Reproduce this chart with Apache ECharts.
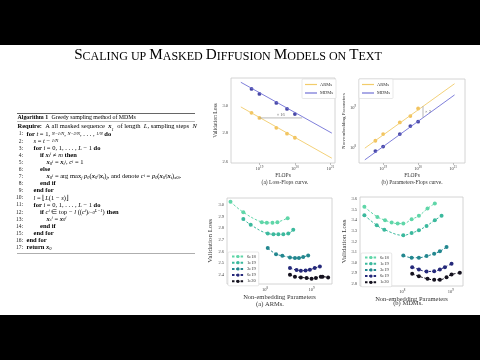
<!DOCTYPE html>
<html><head><meta charset="utf-8">
<script src="https://cdn.jsdelivr.net/npm/echarts@6/dist/echarts.min.js"></script>
<style>html,body{margin:0;padding:0;background:#fff}#c{width:480px;height:360px}</style>
</head><body><div id="c"></div>
<script>
// ---------- data ----------
// (a) Loss-Flops curve
const flops = [6e18, 1e19, 3e19, 6e19, 1e20];
const armsLoss = [2.945, 2.907, 2.834, 2.792, 2.763];
const mdmsLoss = [3.131, 3.091, 3.021, 2.975, 2.936];
const fitFlops = [3e18, 1.1e21];
const armsFitLoss = [2.99, 2.622];
const mdmsFitLoss = [3.185, 2.796];
const ratioLossFlops = [1e19, 1.6e20];
const ratioLossValue = 2.907;
// (b) Parameters-Flops curve
const armsParams = [1.5e8, 2.2e8, 4.3e8, 6.2e8, 9.6e8];
const mdmsParams = [8.3e7, 1.07e8, 2.2e8, 3.5e8, 4.5e8];
const armsFitParams = [9.8e7, 4.0e9];
const mdmsFitParams = [5.0e7, 2.1e9];
const ratioParamsFlops = 1.38e20;
const ratioParamsValues = [1.1e9, 5.7e8];
// IsoFLOP curves (params in millions)
const budgets = ['6e18', '1e19', '3e19', '6e19', '1e20'];
const armsP6e18 = [18, 34, 85, 109, 144, 184, 306];
const armsL6e18 = [3.028, 2.937, 2.852, 2.846, 2.846, 2.852, 2.886];
const armsP1e19 = [34, 49, 114, 151, 193, 247, 316, 404];
const armsL1e19 = [2.88, 2.829, 2.754, 2.749, 2.749, 2.749, 2.754, 2.786];
const armsP3e19 = [114, 172, 235, 343, 439, 535, 661, 845];
const armsL3e19 = [2.629, 2.577, 2.563, 2.549, 2.543, 2.543, 2.552, 2.566];
const armsP6e19 = [343, 476, 589, 743, 920, 1170, 1510];
const armsL6e19 = [2.457, 2.44, 2.434, 2.437, 2.443, 2.457, 2.471];
const armsP1e20 = [343, 439, 589, 782, 1000, 1240, 1580, 1720, 2270];
const armsL1e20 = [2.4, 2.383, 2.377, 2.372, 2.366, 2.372, 2.383, 2.383, 2.377];
const mdmsP6e18 = [16.6, 30.7, 44.2, 60.5, 80.5, 105, 156, 220, 331, 468];
const mdmsL6e18 = [3.527, 3.432, 3.401, 3.379, 3.369, 3.369, 3.41, 3.442, 3.512, 3.559];
const mdmsP1e19 = [16.6, 29.8, 42.7, 105, 156, 220, 316, 468, 644];
const mdmsL1e19 = [3.448, 3.353, 3.312, 3.258, 3.28, 3.306, 3.347, 3.401, 3.442];
const mdmsP3e19 = [105, 156, 220, 316, 454, 594, 815];
const mdmsL3e19 = [3.069, 3.047, 3.047, 3.062, 3.085, 3.107, 3.148];
const mdmsP6e19 = [160, 220, 316, 454, 594, 753, 1033];
const mdmsL6e19 = [2.958, 2.936, 2.917, 2.92, 2.936, 2.958, 2.99];
const mdmsP1e20 = [160, 220, 331, 454, 594, 815, 1033, 1531];
const mdmsL1e20 = [2.895, 2.872, 2.848, 2.838, 2.838, 2.863, 2.888, 2.905];
// tick labels
const flopsTickExp = [19, 20, 21];
const paramTickExp = [8, 9];
const lossTicksTop = [2.6, 2.8, 3.0];
const armsLossTicks = [2.4, 2.5, 2.6, 2.7, 2.8, 2.9, 3.0];
const mdmsLossTicks = [2.8, 2.9, 3.0, 3.1, 3.2, 3.3, 3.4, 3.5, 3.6];

// ---------- helpers ----------
const lg = Math.log10, ln = Math.log;
const SERIF = 'Liberation Serif';
const budgetColors = ['#5fd6a8', '#3bb99d', '#23878f', '#25297a', '#15121f'];
const armsSets = [[armsP6e18, armsL6e18], [armsP1e19, armsL1e19], [armsP3e19, armsL3e19], [armsP6e19, armsL6e19], [armsP1e20, armsL1e20]];
const mdmsSets = [[mdmsP6e18, mdmsL6e18], [mdmsP1e19, mdmsL1e19], [mdmsP3e19, mdmsL3e19], [mdmsP6e19, mdmsL6e19], [mdmsP1e20, mdmsL1e20]];

const powRich = {b: {fontSize: 4.5, fontFamily: SERIF, color: '#444'}, e: {fontSize: 3.2, fontFamily: SERIF, color: '#444', padding: [0, 0, 3, 0]}};
function powAxis(gi, min, max, exps, name, nameGap, nameSize, ticks) {
  return {
    type: 'value', gridIndex: gi, min, max, name, nameLocation: 'middle', nameGap,
    nameTextStyle: {fontFamily: SERIF, fontSize: nameSize, color: '#333'},
    axisLine: {show: false}, splitLine: {show: false},
    axisTick: {show: ticks, customValues: exps, length: 2, lineStyle: {color: '#999', width: 0.6}},
    axisLabel: {customValues: exps, margin: 3, formatter: v => '{b|10}{e|' + Math.round(v) + '}', rich: powRich}
  };
}
function linAxis(gi, min, max, ticks, fmt, toAxis, name, nameGap, nameSize, labelSize) {
  return {
    type: 'value', gridIndex: gi, min, max, name, nameLocation: 'middle', nameGap,
    nameTextStyle: {fontFamily: SERIF, fontSize: nameSize, color: '#333'},
    axisLine: {show: false}, splitLine: {show: false},
    axisTick: {show: false, customValues: ticks.map(toAxis)},
    axisLabel: {customValues: ticks.map(toAxis), margin: 3, fontSize: labelSize, fontFamily: SERIF, color: '#444', formatter: fmt}
  };
}
const gridBase = {show: true, borderColor: '#c9c9c9', borderWidth: 0.8, backgroundColor: '#fff', containLabel: false};

const series = [];
// (a)
series.push({name: 'ARMs', type: 'line', xAxisIndex: 0, yAxisIndex: 0, symbol: 'none', silent: true,
  lineStyle: {color: '#f2cc6a', width: 0.9}, itemStyle: {color: '#f2cc6a'},
  data: fitFlops.map((f, i) => [lg(f), ln(armsFitLoss[i])])});
series.push({name: 'MDMs', type: 'line', xAxisIndex: 0, yAxisIndex: 0, symbol: 'none', silent: true,
  lineStyle: {color: '#7171d6', width: 0.9}, itemStyle: {color: '#7171d6'},
  data: fitFlops.map((f, i) => [lg(f), ln(mdmsFitLoss[i])])});
series.push({name: 'ARMs', type: 'scatter', xAxisIndex: 0, yAxisIndex: 0, symbolSize: 3.8, itemStyle: {color: '#efb437'},
  data: flops.map((f, i) => [lg(f), ln(armsLoss[i])])});
series.push({name: 'MDMs', type: 'scatter', xAxisIndex: 0, yAxisIndex: 0, symbolSize: 3.8, itemStyle: {color: '#1a1a8e'},
  data: flops.map((f, i) => [lg(f), ln(mdmsLoss[i])])});
series.push({type: 'line', xAxisIndex: 0, yAxisIndex: 0, symbol: 'none', lineStyle: {color: '#9a9a9a', width: 0.7},
  data: ratioLossFlops.map(f => [lg(f), ln(ratioLossValue)])});
series.push({type: 'scatter', xAxisIndex: 0, yAxisIndex: 0, symbolSize: 0,
  label: {show: true, position: 'top', distance: 1, formatter: '× 16', fontFamily: SERIF, fontSize: 4.5, color: '#333'},
  data: [[(lg(ratioLossFlops[0]) + lg(ratioLossFlops[1])) / 2, ln(ratioLossValue)]]});
// (b)
series.push({name: 'ARMs', type: 'line', xAxisIndex: 1, yAxisIndex: 1, symbol: 'none', silent: true,
  lineStyle: {color: '#f2cc6a', width: 0.9}, itemStyle: {color: '#f2cc6a'},
  data: fitFlops.map((f, i) => [lg(f), lg(armsFitParams[i])])});
series.push({name: 'MDMs', type: 'line', xAxisIndex: 1, yAxisIndex: 1, symbol: 'none', silent: true,
  lineStyle: {color: '#7171d6', width: 0.9}, itemStyle: {color: '#7171d6'},
  data: fitFlops.map((f, i) => [lg(f), lg(mdmsFitParams[i])])});
series.push({name: 'ARMs', type: 'scatter', xAxisIndex: 1, yAxisIndex: 1, symbolSize: 3.8, itemStyle: {color: '#efb437'},
  data: flops.map((f, i) => [lg(f), lg(armsParams[i])])});
series.push({name: 'MDMs', type: 'scatter', xAxisIndex: 1, yAxisIndex: 1, symbolSize: 3.8, itemStyle: {color: '#1a1a8e'},
  data: flops.map((f, i) => [lg(f), lg(mdmsParams[i])])});
series.push({type: 'line', xAxisIndex: 1, yAxisIndex: 1, symbol: 'none', lineStyle: {color: '#9a9a9a', width: 0.7},
  data: ratioParamsValues.map(p => [lg(ratioParamsFlops), lg(p)])});
series.push({type: 'scatter', xAxisIndex: 1, yAxisIndex: 1, symbolSize: 0,
  label: {show: true, position: 'right', distance: 2, formatter: '× 2', fontFamily: SERIF, fontSize: 4.5, color: '#333'},
  data: [[lg(ratioParamsFlops), (lg(ratioParamsValues[0]) + lg(ratioParamsValues[1])) / 2]]});
// IsoFLOP curves
[armsSets, mdmsSets].forEach((sets, k) => {
  sets.forEach((s, i) => {
    series.push({name: budgets[i], type: 'line', xAxisIndex: 2 + k, yAxisIndex: 2 + k, smooth: 0.4,
      symbol: 'circle', symbolSize: 4,
      lineStyle: {color: budgetColors[i], width: 1, type: [2.5, 1.8]}, itemStyle: {color: budgetColors[i]},
      data: s[0].map((p, j) => [lg(p * 1e6), s[1][j]])});
  });
});

// ---------- algorithm text ----------
const FS = 6.5, FSS = 4.5;
const algRich = {
  n: {fontFamily: SERIF, fontSize: FS, color: '#222'},
  b: {fontFamily: SERIF, fontSize: FS, fontWeight: 'bold', color: '#111'},
  i: {fontFamily: SERIF, fontSize: FS, fontStyle: 'italic', color: '#222'},
  x: {fontFamily: SERIF, fontSize: FS, fontStyle: 'italic', fontWeight: 'bold', color: '#222'},
  s: {fontFamily: SERIF, fontSize: FSS, fontStyle: 'italic', color: '#222', verticalAlign: 'bottom'},
  p: {fontFamily: SERIF, fontSize: FSS, fontStyle: 'italic', color: '#222', verticalAlign: 'top'},
  f: {fontFamily: SERIF, fontSize: FSS, fontStyle: 'italic', color: '#222'},
  hb: {fontFamily: SERIF, fontSize: 5.9, fontWeight: 'bold', color: '#111'},
  hn: {fontFamily: SERIF, fontSize: 5.9, color: '#222'}
};
const algLines = [
  [1, '{b|for} {i|t} = 1, {f|N−1/N}, {f|N−2/N}, . . . , {f|1/N} {b|do}'],
  [2, '{i|s} = {i|t} − {f|1/N}'],
  [2, '{b|for} {i|i} = 0, 1, . . . , {i|L} − 1 {b|do}'],
  [3, '{b|if} {x|x}{s|t}{p|i} ≠ {i|m} {b|then}'],
  [4, '{x|x}{s|0}{p|i} = {x|x}{s|t}{p|i}, {i|c}{p|i} = 1'],
  [3, '{b|else}'],
  [4, '{x|x}{s|0}{p|i} = arg max{s|j} {i|p}{s|θ}({x|x}{s|0}{p|i}|{x|x}{s|t}){s|j}, and denote {i|c}{p|i} = {i|p}{s|θ}({x|x}{s|0}{p|i}|{x|x}{s|t}){s|x0i}.'],
  [3, '{b|end if}'],
  [2, '{b|end for}'],
  [2, '{i|l} = ⌊{i|L}(1 − {i|s})⌋'],
  [2, '{b|for} {i|i} = 0, 1, . . . , {i|L} − 1 {b|do}'],
  [3, '{b|if} {i|c}{p|i} ∈ top − {i|l} (({i|c}{p|i}){s|i=0}{p|L−1}) {b|then}'],
  [4, '{x|x}{s|s}{p|i} = {x|x}{s|0}{p|i}'],
  [3, '{b|end if}'],
  [2, '{b|end for}'],
  [1, '{b|end for}'],
  [1, '{b|return} {x|x}{s|0}']
];
const indentX = [0, 26.5, 33.5, 40, 46.5];
const graphics = [
  {type: 'rect', shape: {x: 0, y: 0, width: 480, height: 45}, style: {fill: '#000'}, silent: true},
  {type: 'rect', shape: {x: 0, y: 315, width: 480, height: 45}, style: {fill: '#000'}, silent: true},
  {type: 'text', x: 228, y: 55, style: {
    text: '{a|S}{c|CALING UP }{a|M}{c|ASKED }{a|D}{c|IFFUSION }{a|M}{c|ODELS ON }{a|T}{c|EXT}',
    align: 'center', textAlign: 'center', verticalAlign: 'middle', textVerticalAlign: 'middle',
    rich: {a: {fontFamily: SERIF, fontSize: 15.2, color: '#222', verticalAlign: 'bottom'}, c: {fontFamily: SERIF, fontSize: 12, color: '#222', verticalAlign: 'bottom'}}}},
  {type: 'line', shape: {x1: 17, y1: 113.5, x2: 195, y2: 113.5}, style: {stroke: '#555', lineWidth: 0.9}},
  {type: 'line', shape: {x1: 17, y1: 121.5, x2: 195, y2: 121.5}, style: {stroke: '#777', lineWidth: 0.5}},
  {type: 'line', shape: {x1: 17, y1: 253.5, x2: 195, y2: 253.5}, style: {stroke: '#777', lineWidth: 0.6}},
  {type: 'text', x: 17.5, y: 117.5, style: {text: '{hb|Algorithm 1} {hn|Greedy sampling method of MDMs}', rich: algRich, verticalAlign: 'middle', textVerticalAlign: 'middle'}},
  {type: 'text', x: 17.5, y: 126, style: {text: '{b|Require:} {n|A all masked sequence} {x|x}{s|1} {n|of length} {i|L}{n|, sampling steps} {i|N}', rich: algRich, verticalAlign: 'middle', textVerticalAlign: 'middle'}}
];
algLines.forEach((ln_, k) => {
  const y = 134 + k * 7.1;
  graphics.push({type: 'text', x: 23, y, style: {text: (k + 1) + ':', font: '5.5px ' + SERIF, fill: '#222', align: 'right', textAlign: 'right', verticalAlign: 'middle', textVerticalAlign: 'middle'}});
  graphics.push({type: 'text', x: indentX[ln_[0]], y, style: {text: ln_[1].replace(/(^|\})([^{}]+?)(?=\{|$)/g, (m, a, t) => a + '{n|' + t + '}'), rich: algRich, verticalAlign: 'middle', textVerticalAlign: 'middle'}});
});
const caps = [
  ['(a) Loss-Flops curve.', 285, 183, 5.5],
  ['(b) Parameters-Flops curve.', 412, 183, 5.5],
  ['(a) ARMs.', 270, 304, 6.5],
  ['(b) MDMs.', 408, 303.5, 6.5]
];
caps.forEach(c => graphics.push({type: 'text', x: c[1], y: c[2], style: {text: c[0], font: c[3] + 'px ' + SERIF, fill: '#333', align: 'center', textAlign: 'center', verticalAlign: 'middle', textVerticalAlign: 'middle'}}));

const legBase = {orient: 'vertical', itemWidth: 12, itemHeight: 4, itemGap: 2, padding: [2, 3], borderColor: '#d0d0d0', borderWidth: 0.5, borderRadius: 1, backgroundColor: '#fff',
  textStyle: {fontFamily: SERIF, fontSize: 4.5, color: '#333', padding: [0, 0, 0, -2]}, selectedMode: false};
const topLegData = [{name: 'ARMs', icon: 'rect', itemStyle: {color: '#f2cc6a'}}, {name: 'MDMs', icon: 'rect', itemStyle: {color: '#7171d6'}}];

const option = {
  animation: false,
  backgroundColor: '#fff',
  grid: [
    Object.assign({left: 231, top: 78, width: 104, height: 85}, gridBase),
    Object.assign({left: 359, top: 79, width: 106, height: 84}, gridBase),
    Object.assign({left: 227, top: 198, width: 105, height: 86}, gridBase),
    Object.assign({left: 360, top: 197, width: 103, height: 89}, gridBase)
  ],
  xAxis: [
    powAxis(0, 18.2, 21.13, flopsTickExp, 'FLOPs', 10, 5.5, true),
    powAxis(1, 18.31, 21.34, flopsTickExp, 'FLOPs', 10, 5.5, true),
    powAxis(2, 7.18, 9.44, paramTickExp, 'Non-embedding Parameters', 10, 6.5, false),
    powAxis(3, 7.13, 9.25, paramTickExp, 'Non-embedding Parameters', 8, 6.5, false)
  ],
  yAxis: [
    linAxis(0, ln(2.59), ln(3.22), lossTicksTop, v => Math.exp(v).toFixed(1), v => ln(v), 'Validation Loss', 8, 5.5, 4.5),
    powAxis(1, 7.62, 9.72, paramTickExp, 'Non-embedding Parameters', 9, 5, false),
    linAxis(2, 2.32, 3.06, armsLossTicks, v => v.toFixed(1), v => v, 'Validation Loss', 13, 7, 4.5),
    linAxis(3, 2.78, 3.62, mdmsLossTicks, v => v.toFixed(1), v => v, 'Validation Loss', 12, 7, 4.5)
  ],
  legend: [
    Object.assign({}, legBase, {left: 302, top: 79, itemHeight: 1.2, itemGap: 3.5, padding: [3, 3], data: topLegData}),
    Object.assign({}, legBase, {left: 359, top: 79, itemHeight: 1.2, itemGap: 3.5, padding: [3, 3], data: topLegData}),
    Object.assign({}, legBase, {left: 228, top: 252, itemGap: 1.2, data: budgets}),
    Object.assign({}, legBase, {left: 361, top: 253, itemGap: 1.2, data: budgets})
  ],
  series,
  graphic: {elements: graphics}
};
const chart = echarts.init(document.getElementById('c'), null, {renderer: 'canvas'});
chart.setOption(option);
</script></body></html>
